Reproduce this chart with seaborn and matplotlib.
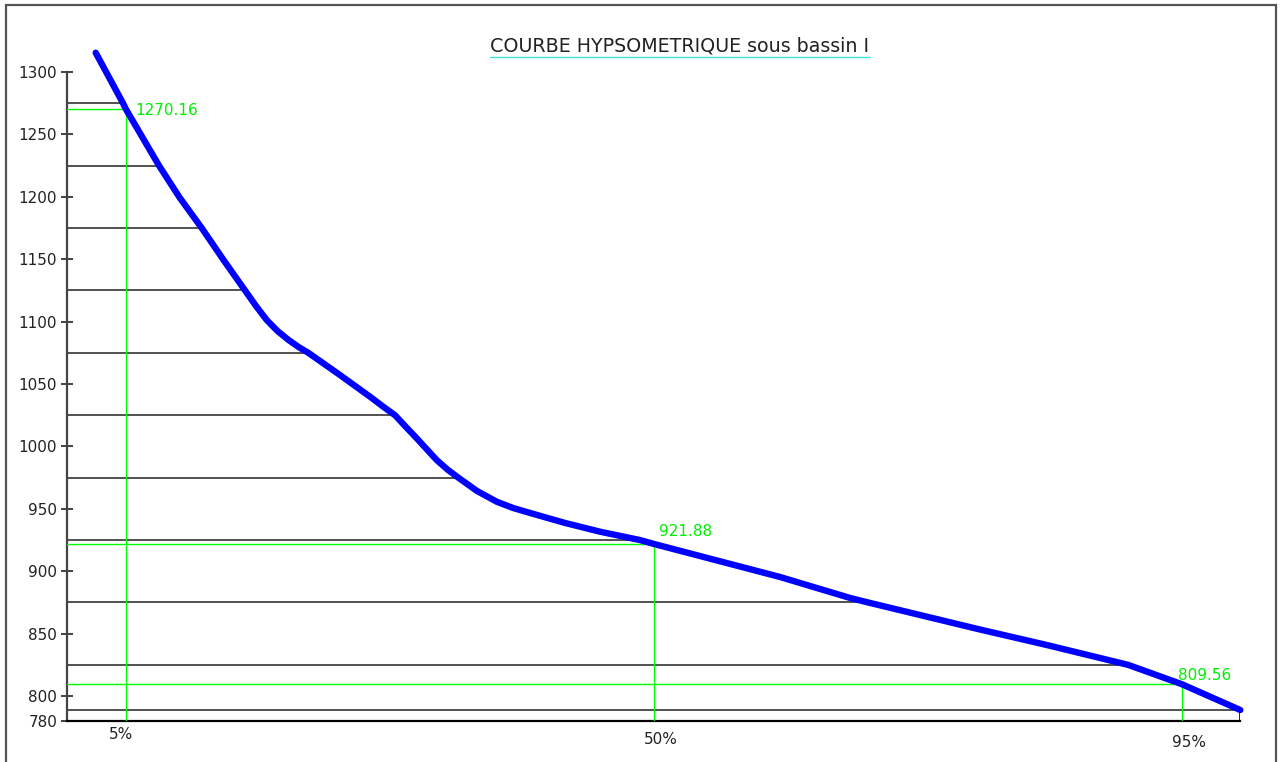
import numpy as np
import matplotlib
matplotlib.use("Agg")
import matplotlib.pyplot as plt
from matplotlib.patches import Rectangle
from matplotlib.lines import Line2D
import seaborn as sns

# Hypsometric curve of the sub-basin: cumulative area (%) vs elevation (m)
area_pct = [2.42, 4.75, 5.0, 7.82, 9.57, 11.46, 13.32, 15.15, 16.09, 17.0,
            17.92, 18.86, 19.71, 20.55, 23.25, 25.8, 26.91, 27.94, 28.87,
            29.79, 31.49, 32.41, 33.33, 34.93, 36.61, 38.0, 39.45, 42.43,
            45.41, 48.82, 50.0, 60.76, 66.73, 68.26, 77.81, 83.5, 90.43,
            95.0, 100.0]
elevation = [1315.5, 1275, 1270.16, 1225, 1199.5, 1175, 1149.4, 1125, 1112.5,
             1101.3, 1092.5, 1085.3, 1079.7, 1075, 1057.2, 1039.9, 1032.0,
             1025, 1015.6, 1006.5, 989.1, 981.5, 975, 964.3, 955.7, 950.7,
             946.7, 938.7, 931.7, 925, 921.88, 895.4, 878.6, 875, 853.3,
             840.9, 825, 809.56, 788.8]

# Contour levels drawn as horizontal bands up to the curve
contour_levels = [1275, 1225, 1175, 1125, 1075, 1025, 975, 925, 875, 825, 788.8]

# Characteristic altitudes (5 %, 50 %, 95 %)
marker_pct = [5, 50, 95]
marker_elev = [1270.16, 921.88, 809.56]
marker_labels = ["5%", "50%", "95%"]

y_ticks = [780, 800, 850, 900, 950, 1000, 1050, 1100, 1150, 1200, 1250, 1300]
title = "COURBE HYPSOMETRIQUE sous bassin I"

sns.set_theme(style="white")
plt.rcParams["font.family"] = ["DejaVu Sans"]

W, H = 1282, 762
fig = plt.figure(figsize=(W / 100, H / 100), dpi=100)
fig.patch.set_facecolor("white")

# axes placement in pixels
x0_px, x1_px = 67.3, 1240.3
y_bot_px = 721.0
px_per_m = 1.248
ymin, ymax = 780, 1330
y_top_px = y_bot_px - (ymax - ymin) * px_per_m
ax = fig.add_axes([x0_px / W, (H - y_bot_px) / H,
                   (x1_px - x0_px) / W, (y_bot_px - y_top_px) / H])
ax.set_facecolor("white")
ax.set_xlim(0, 100)
ax.set_ylim(ymin, ymax)

for side in ["top", "right"]:
    ax.spines[side].set_visible(False)
ax.spines["left"].set_bounds(780, 1300)
ax.spines["left"].set_color("#444444")
ax.spines["left"].set_linewidth(1.6)
ax.spines["bottom"].set_color("black")
ax.spines["bottom"].set_linewidth(1.6)

ax.set_yticks(y_ticks)
ax.set_yticklabels([str(v) for v in y_ticks])
ax.tick_params(axis="y", direction="inout", length=8.6, width=1.2,
               color="#222222", labelsize=11, labelcolor="#222222", pad=3,
               left=True)
ax.set_xticks([])

# contour bands from the axis to the curve
elev_arr = np.array(elevation)
pct_arr = np.array(area_pct)
for lev in contour_levels:
    xe = np.interp(lev, elev_arr[::-1], pct_arr[::-1])
    ax.plot([0, xe], [lev, lev], color="#333333", lw=1.2, zorder=2)
ax.plot([100, 100], [780, contour_levels[-1]], color="black", lw=1.2, zorder=2)

# characteristic altitude guides
value_offsets = [(9, -1), (5, 12), (-4, 9)]
for p, e, (dx, dy) in zip(marker_pct, marker_elev, value_offsets):
    ax.plot([0, p], [e, e], color="#00ff00", lw=1.0, zorder=3)
    ax.plot([p, p], [780, e], color="#00ff00", lw=1.0, zorder=3)
    ax.annotate(f"{e:.2f}", xy=(p, e), xytext=(dx, dy),
                textcoords="offset pixels", color="#00ee00", fontsize=11,
                ha="left", va="center", zorder=5)

# hypsometric curve
sns.lineplot(x=area_pct, y=elevation, sort=False, color="#0000ff", lw=4.6,
             ax=ax, zorder=4, clip_on=False,
             solid_capstyle="round", solid_joinstyle="round")

# percentage labels under the axis
label_offsets = [(-5, -14), (7, -19), (7, -22)]
for p, lab, (dx, dy) in zip(marker_pct, marker_labels, label_offsets):
    ax.annotate(lab, xy=(p, 780), xytext=(dx, dy), textcoords="offset pixels",
                ha="center", va="center", fontsize=11, color="#222222",
                annotation_clip=False)

# title with underline
fig.text(680 / W, 1 - 46 / H, title, ha="center", va="center",
         fontsize=13.7, color="#222222")
fig.add_artist(Line2D([490 / W, 870 / W], [1 - 57 / H, 1 - 57 / H],
                      color="#40e0e0", lw=1.0))

# drawing frame
fig.add_artist(Rectangle((6 / W, -0.05), (1276 - 6) / W, 1.05 - 5 / H,
                         fill=False, edgecolor="#555555", lw=1.6))

fig.savefig("out.png", dpi=100, facecolor="white")
